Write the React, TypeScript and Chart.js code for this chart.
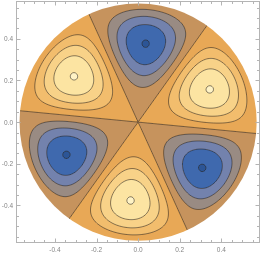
import React, { useEffect, useRef } from "react";
import { Chart, registerables } from "chart.js";
Chart.register(...registerables);

// Drum-membrane mode (m = 3) shown on a disk
const diskRadius = 0.57;
const nodalRadius = 0.575; // radius where the radial factor vanishes
const besselOrder = 3;
const besselRoot = 6.3802; // first zero of J3
const nodalAngleDeg = 54.5;
const amplitude = 1.01;
const contourLevels = [-1, -0.75, -0.5, -0.25, 0, 0.25, 0.5, 0.75, 1];
const bandColors = [
  "#2c5596", "#3f69ae", "#7382ad", "#998b83", "#c6935d",
  "#e8a856", "#f2bd6d", "#f8d288", "#fce4a2", "#fff3c5",
];
const majorTicks = [-0.4, -0.2, 0, 0.2, 0.4];
const majorTickLabels = ["-0.4", "-0.2", "0.0", "0.2", "0.4"];
const minorTicks = [-0.55, -0.5, -0.45, -0.35, -0.3, -0.25, -0.15, -0.1, -0.05, 0.05, 0.1, 0.15, 0.25, 0.3, 0.35, 0.45, 0.5, 0.55];
const xRange = [-0.587, 0.586];
const yRange = [-0.581, 0.582];

function besselJ(n: number, x: number): number {
  let fact = 1;
  for (let i = 2; i <= n; i++) fact *= i;
  let term = Math.pow(x / 2, n) / fact;
  let sum = 0;
  for (let m = 0; m < 40; m++) {
    sum += term;
    term *= -(x * x / 4) / ((m + 1) * (m + n + 1));
  }
  return sum;
}

let jMax = 0;
for (let i = 1; i <= 2000; i++) {
  const v = besselJ(besselOrder, (besselRoot * i) / 2000);
  if (v > jMax) jMax = v;
}

function field(xv: number, yv: number): number {
  let r = Math.hypot(xv, yv);
  r = Math.min(r, diskRadius);
  const th = Math.atan2(yv, xv);
  const k = besselRoot / nodalRadius;
  const radial = besselJ(besselOrder, k * r) / jMax;
  return -amplitude * radial * Math.sin(besselOrder * (th - (nodalAngleDeg * Math.PI) / 180));
}

function hexToRgb(h: string): number[] {
  const n = parseInt(h.slice(1), 16);
  return [(n >> 16) & 255, (n >> 8) & 255, n & 255];
}

function bandIndex(v: number): number {
  let b = 0;
  for (const l of contourLevels) if (v > l) b++;
  return b;
}

const contourPlugin = {
  id: "contourField",
  beforeDatasetsDraw(chart: any) {
    const { ctx, chartArea, scales } = chart;
    const xs = scales.x, ys = scales.y;
    const left = Math.floor(chartArea.left), top = Math.floor(chartArea.top);
    const w = Math.ceil(chartArea.right) - left, h = Math.ceil(chartArea.bottom) - top;
    const rgbs = bandColors.map(hexToRgb);
    const gw = w + 1, gh = h + 1;
    const g = new Float64Array(gw * gh);
    for (let j = 0; j < gh; j++) {
      const yv = ys.getValueForPixel(top + j);
      for (let i = 0; i < gw; i++) {
        const xv = xs.getValueForPixel(left + i);
        g[j * gw + i] = field(xv, yv);
      }
    }
    const off = document.createElement("canvas");
    off.width = w; off.height = h;
    const octx = off.getContext("2d")!;
    const img = octx.createImageData(w, h);
    for (let j = 0; j < h; j++) {
      const yv = ys.getValueForPixel(top + j + 0.5);
      for (let i = 0; i < w; i++) {
        const xv = xs.getValueForPixel(left + i + 0.5);
        const c = rgbs[bandIndex(field(xv, yv))];
        const p = (j * w + i) * 4;
        img.data[p] = c[0]; img.data[p + 1] = c[1]; img.data[p + 2] = c[2]; img.data[p + 3] = 255;
      }
    }
    octx.putImageData(img, 0, 0);
    const cx = xs.getPixelForValue(0), cy = ys.getPixelForValue(0);
    const rpx = xs.getPixelForValue(diskRadius) - cx;
    ctx.save();
    ctx.beginPath();
    ctx.arc(cx, cy, rpx, 0, Math.PI * 2);
    ctx.clip();
    ctx.drawImage(off, left, top);
    ctx.beginPath();
    for (const lev of contourLevels) {
      for (let j = 0; j < gh - 1; j++) {
        for (let i = 0; i < gw - 1; i++) {
          const a = g[j * gw + i] - lev, b = g[j * gw + i + 1] - lev;
          const c = g[(j + 1) * gw + i + 1] - lev, d = g[(j + 1) * gw + i] - lev;
          const pts: number[][] = [];
          const x0 = left + i, y0 = top + j;
          if ((a > 0) !== (b > 0)) pts.push([x0 + a / (a - b), y0]);
          if ((b > 0) !== (c > 0)) pts.push([x0 + 1, y0 + b / (b - c)]);
          if ((d > 0) !== (c > 0)) pts.push([x0 + d / (d - c), y0 + 1]);
          if ((a > 0) !== (d > 0)) pts.push([x0, y0 + a / (a - d)]);
          if (pts.length === 2) {
            ctx.moveTo(pts[0][0], pts[0][1]);
            ctx.lineTo(pts[1][0], pts[1][1]);
          } else if (pts.length === 4) {
            ctx.moveTo(pts[0][0], pts[0][1]); ctx.lineTo(pts[3][0], pts[3][1]);
            ctx.moveTo(pts[1][0], pts[1][1]); ctx.lineTo(pts[2][0], pts[2][1]);
          }
        }
      }
    }
    ctx.strokeStyle = "rgba(45,40,35,0.62)";
    ctx.lineWidth = 0.9;
    ctx.stroke();
    ctx.restore();
  },
  afterDraw(chart: any) {
    const { ctx, chartArea, scales } = chart;
    const xs = scales.x, ys = scales.y;
    const L = Math.round(chartArea.left) + 0.5, R = Math.round(chartArea.right) - 0.5;
    const T = Math.round(chartArea.top) + 0.5, B = Math.round(chartArea.bottom) - 0.5;
    ctx.save();
    ctx.strokeStyle = "#b4b4b4";
    ctx.lineWidth = 1;
    ctx.strokeRect(L, T, R - L, B - T);
    ctx.beginPath();
    const drawTick = (v: number, len: number) => {
      const px = Math.round(xs.getPixelForValue(v)) + 0.5;
      ctx.moveTo(px, B); ctx.lineTo(px, B - len);
      ctx.moveTo(px, T); ctx.lineTo(px, T + len);
      const py = Math.round(ys.getPixelForValue(v)) + 0.5;
      ctx.moveTo(L, py); ctx.lineTo(L + len, py);
      ctx.moveTo(R, py); ctx.lineTo(R - len, py);
    };
    majorTicks.forEach((v) => drawTick(v, 4));
    minorTicks.forEach((v) => drawTick(v, 2.5));
    ctx.stroke();

    // tick labels (baseline snapped so the minus sign lands on one pixel row)
    ctx.font = "6.5px 'Liberation Sans', Arial, sans-serif";
    ctx.fillStyle = "#858585";
    ctx.textBaseline = "alphabetic";
    const mm = ctx.measureText("-");
    const hy = ((mm.actualBoundingBoxAscent || 2) - (mm.actualBoundingBoxDescent || -1.5)) / 2;
    const dm = ctx.measureText("0");
    const digitH = dm.actualBoundingBoxAscent || 4.6;
    const snap = (baseline: number) => {
      const row = Math.round(baseline - hy - 0.5) + 0.5;
      return row + hy;
    };
    ctx.textAlign = "center";
    const xBase = snap(B + 9.5);
    majorTicks.forEach((v, i) => {
      ctx.fillText(majorTickLabels[i], xs.getPixelForValue(v), xBase);
    });
    ctx.textAlign = "right";
    majorTicks.forEach((v, i) => {
      const py = ys.getPixelForValue(v);
      ctx.fillText(majorTickLabels[i], L - 3.5, snap(py + digitH / 2));
    });
    ctx.restore();
  },
};

export default function App() {
  const ref = useRef<HTMLCanvasElement | null>(null);
  useEffect(() => {
    document.body.style.margin = "0";
    const canvas = ref.current!;
    const chart = new Chart(canvas, {
      type: "scatter",
      data: { datasets: [] },
      plugins: [contourPlugin],
      options: {
        animation: false,
        responsive: false,
        devicePixelRatio: 1,
        layout: { padding: { left: 0, right: 2, top: 1, bottom: 0 } },
        plugins: { legend: { display: false }, tooltip: { enabled: false } },
        scales: {
          x: {
            type: "linear",
            min: xRange[0],
            max: xRange[1],
            grid: { display: false, drawTicks: false },
            border: { display: false },
            afterBuildTicks: (s: any) => { s.ticks = majorTicks.map((v) => ({ value: v })); },
            afterFit: (s: any) => { s.height = 14; },
            ticks: { display: false },
          },
          y: {
            type: "linear",
            min: yRange[0],
            max: yRange[1],
            grid: { display: false, drawTicks: false },
            border: { display: false },
            afterBuildTicks: (s: any) => { s.ticks = majorTicks.map((v) => ({ value: v })); },
            afterFit: (s: any) => { s.width = 16; },
            ticks: { display: false },
          },
        },
      },
    } as any);
    return () => chart.destroy();
  }, []);
  return (
    <div style={{ width: 262, height: 257 }}>
      <canvas ref={ref} width={262} height={257} style={{ display: "block" }} />
    </div>
  );
}
